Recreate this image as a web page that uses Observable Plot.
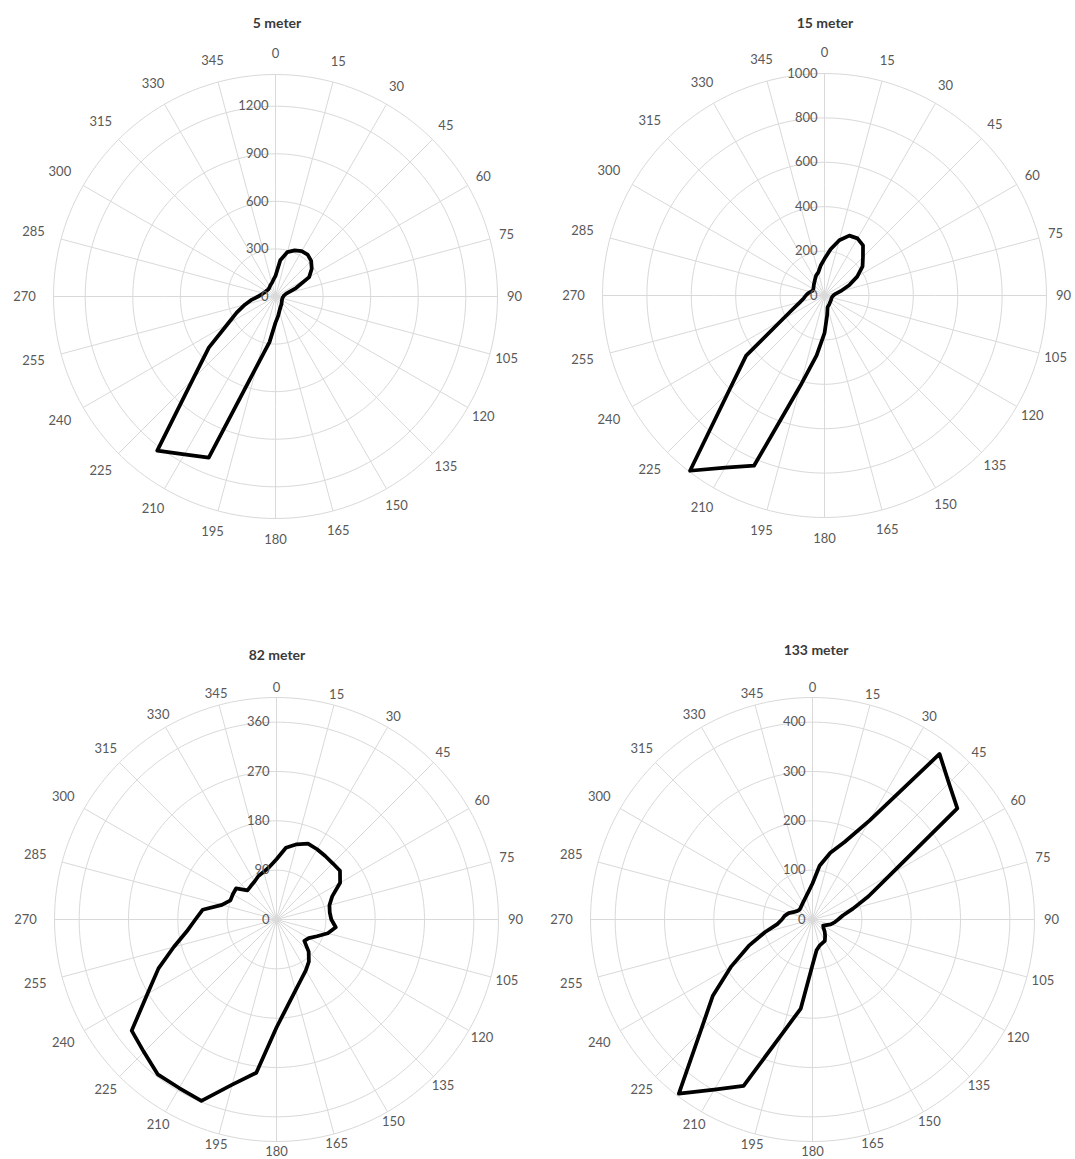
<!DOCTYPE html>
<html><head><meta charset="utf-8">
<script src="https://cdn.jsdelivr.net/npm/d3@7"></script>
<script src="https://cdn.jsdelivr.net/npm/@observablehq/plot@0.6"></script>
<style>
html,body{margin:0;padding:0;background:#fff;}
#page{position:relative;width:1075px;height:1159px;overflow:hidden;font-family:Lato,"Open Sans",sans-serif;}
.panel{position:absolute;}
.title{position:absolute;transform:translate(-50%,-50%);font-weight:bold;font-size:14px;color:#3a3a3a;white-space:nowrap;}
</style></head><body><div id="page"></div>
<script>
// Wind directions (degrees, clockwise from north) at which values are read
const directions = [0, 7.5, 15, 22.5, 30, 37.5, 45, 52.5, 60, 67.5, 75, 82.5, 90, 97.5, 105, 112.5,
  120, 127.5, 135, 142.5, 150, 157.5, 165, 172.5, 180, 187.5, 195, 202.5, 210, 217.5, 225, 232.5,
  240, 247.5, 255, 262.5, 270, 277.5, 285, 292.5, 300, 307.5, 315, 322.5, 330, 337.5, 345, 352.5];

const values5m = [130, 230, 290, 315, 330, 333, 318, 288, 245, 140, 70, 55, 50, 46, 45, 45,
  47, 50, 55, 62, 68, 78, 95, 125, 165, 290, 455, 1100, 1150, 1225, 735, 530,
  350, 265, 200, 150, 110, 90, 80, 72, 68, 65, 64, 66, 72, 80, 88, 105];

const values15m = [165, 210, 258, 292, 297, 285, 245, 216, 170, 120, 75, 48, 40, 36, 34, 34,
  35, 36, 38, 40, 44, 48, 54, 90, 170, 272, 421, 830, 895, 995, 610, 445,
  223, 150, 114, 94, 84, 75, 65, 58, 58, 62, 68, 75, 85, 98, 108, 135];

const values82m = [110, 132, 142, 150, 148, 146, 145, 146, 134, 110, 100, 98, 100, 109, 97, 80,
  68, 64, 83, 97, 107, 118, 134, 158, 197, 282, 312, 358, 355, 356, 342, 333,
  272, 233, 194, 165, 148, 136, 103, 91, 92, 93, 75, 77, 80, 86, 90, 97];

const values133m = [73, 110, 140, 170, 232, 423, 391, 370, 183, 123, 85, 62, 52, 45, 38, 30,
  25, 28, 35, 42, 50, 52, 55, 63, 92, 182, 241, 365, 398, 445, 321, 255,
  190, 140, 100, 72, 62, 57, 50, 40, 35, 33, 34, 36, 39, 43, 49, 58];

const angleLabels = [0, 15, 30, 45, 60, 75, 90, 105, 120, 135, 150, 165, 180, 195, 210, 225,
  240, 255, 270, 285, 300, 315, 330, 345];

const ticks5m = [0, 300, 600, 900, 1200];
const ticks15m = [0, 200, 400, 600, 800, 1000];
const ticks82m = [0, 90, 180, 270, 360];
const ticks133m = [0, 100, 200, 300, 400];

const titles = ["5 meter", "15 meter", "82 meter", "133 meter"];
const axisMax = [1400, 1000, 405, 450];

const charts = [
  {title: titles[0], values: values5m, max: axisMax[0], ticks: ticks5m, cx: 275, cy: 295.7, tx: 277, ty: 22, lv: 243},
  {title: titles[1], values: values15m, max: axisMax[1], ticks: ticks15m, cx: 823.5, cy: 295, tx: 825, ty: 22, lv: 243},
  {title: titles[2], values: values82m, max: axisMax[2], ticks: ticks82m, cx: 275.7, cy: 919, tx: 277, ty: 654, lv: 232},
  {title: titles[3], values: values133m, max: axisMax[3], ticks: ticks133m, cx: 811.5, cy: 918.5, tx: 816, ty: 649, lv: 232}
];

const SIZE = 580;            // svg size; the projection domain fills it entirely
const HALF = SIZE / 2;       // px from center to svg edge
const RDF = 60;              // angular radius (deg) of the full svg frame
const R_PX = 222;            // radius of the plotted circle in px
const degPerPx = RDF / HALF;
const RD = R_PX * degPerPx;  // angular radius of the data circle
const GRID = "#d9d9d9";
const TEXT = "#595959";
const FONT = 'Lato, "Open Sans", sans-serif';

const lon = dir => 180 - dir;
const page = document.getElementById("page");

for (const c of charts) {
  const lat = v => 90 - v / c.max * RD;
  const data = directions.map((d, i) => ({dir: d, v: c.values[i]}));
  const rings = c.ticks.filter(t => t > 0 && t < c.max).concat([c.max]);
  const labR = d => {
    const s = Math.sin(d * Math.PI / 180), co = Math.cos(d * Math.PI / 180);
    const rh = s > 0 ? 239 : 251;
    return (c.lv * co * co + rh * s * s) * degPerPx;
  };

  const svg = Plot.plot({
    width: SIZE, height: SIZE,
    margin: 0,
    projection: {
      type: "azimuthal-equidistant",
      rotate: [0, -90],
      domain: d3.geoCircle().center([0, 90]).radius(RDF)()
    },
    style: {background: "transparent", overflow: "visible", fontFamily: FONT},
    marks: [
      Plot.geo(rings, {
        geometry: v => d3.geoCircle().center([0, 90]).radius(v / c.max * RD)(),
        fill: "none", stroke: GRID, strokeWidth: 1
      }),
      Plot.link(angleLabels, {
        x1: d => lon(d), y1: () => 90, x2: d => lon(d), y2: () => 90 - RD,
        stroke: GRID, strokeWidth: 1
      }),
      Plot.line(data, {
        x: d => lon(d.dir), y: d => lat(d.v),
        curve: "linear-closed", stroke: "#000", strokeWidth: 3.75,
        strokeLinejoin: "round", fill: "none"
      }),
      Plot.text(angleLabels, {
        x: d => lon(d), y: d => 90 - labR(d), text: d => String(d),
        fill: TEXT, fontSize: 13, textAnchor: "middle"
      }),
      Plot.text(c.ticks, {
        x: () => 180, y: v => lat(v), text: v => String(v),
        fill: TEXT, fontSize: 13, textAnchor: "end", dx: -7
      })
    ]
  });

  const panel = document.createElement("div");
  panel.className = "panel";
  panel.style.left = (c.cx - HALF) + "px";
  panel.style.top = (c.cy - HALF) + "px";
  panel.style.width = SIZE + "px";
  panel.style.height = SIZE + "px";
  panel.appendChild(svg);
  page.appendChild(panel);

  const t = document.createElement("div");
  t.className = "title";
  t.style.left = c.tx + "px";
  t.style.top = c.ty + "px";
  t.textContent = c.title;
  page.appendChild(t);
}
</script>
</body></html>
